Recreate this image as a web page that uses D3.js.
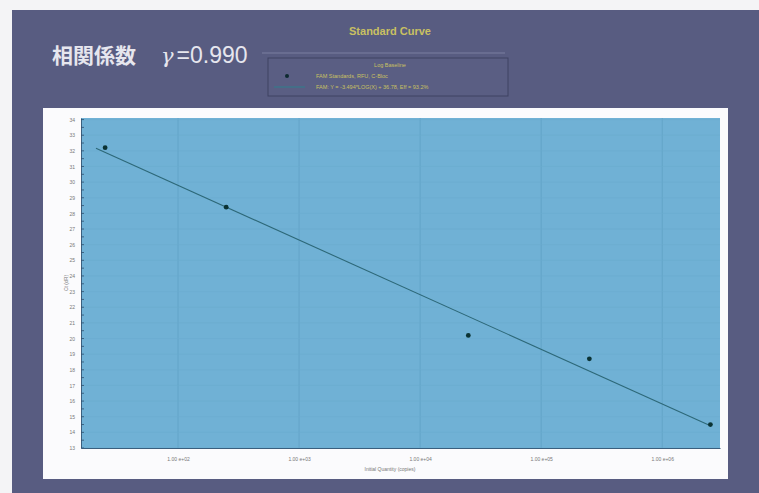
<!DOCTYPE html>
<html lang="ja">
<head>
<meta charset="UTF-8">
<title>Standard Curve</title>
<script src="https://d3js.org/d3.v7.min.js"></script>
<style>
html,body{margin:0;padding:0;background:#f4f4f6}
svg{display:block}
text{font-family:"Liberation Sans",Arial,sans-serif}
</style>
</head>
<body>
<svg id="chart" width="759" height="493"></svg>
<script>
// standards: starting quantity (copies) and Ct
var quantities = [25, 250, 25000, 250000, 2500000];
var ctValues = [32.2, 28.4, 20.2, 18.7, 14.5];
var xTicks = [1e2, 1e3, 1e4, 1e5, 1e6];
var xTickLabels = ['1.00 e+02', '1.00 e+03', '1.00 e+04', '1.00 e+05', '1.00 e+06'];
var yTicks = d3.range(13, 35);
var fitSlope = -3.494, fitIntercept = 36.78, fitEff = 93.2;
var fitRange = [21, 2500000];

var svg = d3.select('#chart');

// slide background
svg.append('rect').attr('x', 12).attr('y', 10).attr('width', 747).attr('height', 483).attr('fill', '#585c81');
// white chart panel
svg.append('rect').attr('x', 43).attr('y', 108).attr('width', 685).attr('height', 371).attr('fill', '#fbfbfd');

svg.append('text').attr('x', 390).attr('y', 35).attr('text-anchor', 'middle')
  .attr('font-size', 11).attr('font-weight', 'bold').attr('fill', '#c9c062').text('Standard Curve');

var jp = svg.append('text').attr('x', 52).attr('y', 63).attr('font-size', 21).attr('fill', '#e6e6ee')
  .style('font-family', '"Noto Sans CJK JP",sans-serif');
jp.append('tspan').attr('font-weight', 'bold').text('相関係数');
jp.append('tspan').attr('dx', 25).attr('font-style', 'italic').style('font-family', '"DejaVu Serif",serif').text('γ');
jp.append('tspan').attr('dx', 3).attr('font-size', 23).style('font-family', '"Liberation Sans",Arial,sans-serif').text('=0.990');

// legend
svg.append('line').attr('x1', 262).attr('x2', 505).attr('y1', 53).attr('y2', 53).attr('stroke', '#7a7ea0').attr('stroke-width', 1);
svg.append('rect').attr('x', 268).attr('y', 58).attr('width', 240).attr('height', 38)
  .attr('fill', '#5a5e83').attr('stroke', '#3e4263').attr('stroke-width', 1);
svg.append('text').attr('x', 390).attr('y', 67).attr('text-anchor', 'middle').attr('font-size', 5.5).attr('fill', '#c9c062').text('Log Baseline');
svg.append('circle').attr('cx', 287).attr('cy', 76).attr('r', 2).attr('fill', '#0d2a30');
svg.append('line').attr('x1', 274).attr('x2', 305).attr('y1', 87).attr('y2', 87).attr('stroke', '#2f7f8c').attr('stroke-width', 1);
svg.append('text').attr('x', 316).attr('y', 78).attr('font-size', 5.5).attr('fill', '#c9c062').text('FAM Standards, RFU, C-Bloc');
svg.append('text').attr('x', 316).attr('y', 89).attr('font-size', 5.5).attr('fill', '#c9c062')
  .text('FAM: Y = ' + fitSlope.toFixed(3) + '*LOG(X) + ' + fitIntercept.toFixed(2) + ', Eff = ' + fitEff.toFixed(1) + '%');

// plot
var plotLeft = 81, plotRight = 720, plotTop = 118, plotBottom = 448;
var x = d3.scaleLog().domain([15.8, 3.0e6]).range([plotLeft, plotRight]);
var y = d3.scaleLinear().domain([13, 34.1]).range([plotBottom, plotTop]);

svg.append('rect').attr('x', plotLeft).attr('y', plotTop).attr('width', plotRight - plotLeft)
  .attr('height', plotBottom - plotTop).attr('fill', '#70b1d5');

var g = svg.append('g');
g.selectAll('.vg').data(xTicks).join('line')
  .attr('x1', function(d) { return x(d); }).attr('x2', function(d) { return x(d); })
  .attr('y1', plotTop).attr('y2', plotBottom).attr('stroke', '#63a4c8').attr('stroke-width', 1);
g.selectAll('.hg').data(yTicks).join('line')
  .attr('x1', plotLeft).attr('x2', plotRight)
  .attr('y1', function(d) { return y(d); }).attr('y2', function(d) { return y(d); })
  .attr('stroke', '#69abcf').attr('stroke-width', 0.6);

// y axis with minor ticks
var yAxis = d3.axisLeft(y).tickValues(yTicks).tickSize(0).tickPadding(6).tickFormat(d3.format('d'));
var ya = svg.append('g').attr('transform', 'translate(' + plotLeft + ',0)').call(yAxis);
ya.select('.domain').attr('stroke', '#3a5f7e');
ya.selectAll('text').attr('font-size', 5).attr('fill', '#777');
svg.append('g').selectAll('line').data(d3.range(13, 34.01, 0.5)).join('line')
  .attr('x1', plotLeft).attr('x2', plotLeft + 3)
  .attr('y1', function(d) { return y(d); }).attr('y2', function(d) { return y(d); })
  .attr('stroke', '#2f4f6e').attr('stroke-width', 0.8);

var xAxis = d3.axisBottom(x).tickValues(xTicks).tickSize(0).tickPadding(9)
  .tickFormat(function(d, i) { return xTickLabels[i]; });
var xa = svg.append('g').attr('transform', 'translate(0,' + plotBottom + ')').call(xAxis);
xa.select('.domain').attr('stroke', '#3a5f7e');
xa.selectAll('text').attr('font-size', 5).attr('fill', '#777');

svg.append('text').attr('x', 390).attr('y', 471).attr('text-anchor', 'middle').attr('font-size', 5).attr('fill', '#777').text('Initial Quantity (copies)');
svg.append('text').attr('transform', 'translate(68,' + ((plotTop + plotBottom) / 2) + ') rotate(-90)')
  .attr('text-anchor', 'middle').attr('font-size', 5).attr('fill', '#777').text('Ct (dR)');

// fit line
var fitLine = d3.line().x(function(d) { return x(d); }).y(function(d) { return y(fitSlope * Math.log10(d) + fitIntercept); });
svg.append('path').datum(fitRange).attr('d', fitLine).attr('fill', 'none').attr('stroke', '#2d6878').attr('stroke-width', 1.1);

svg.append('g').selectAll('circle').data(quantities).join('circle')
  .attr('cx', function(d) { return x(d); })
  .attr('cy', function(d, i) { return y(ctValues[i]); })
  .attr('r', 2.4).attr('fill', '#0b3334');
</script>
</body>
</html>
